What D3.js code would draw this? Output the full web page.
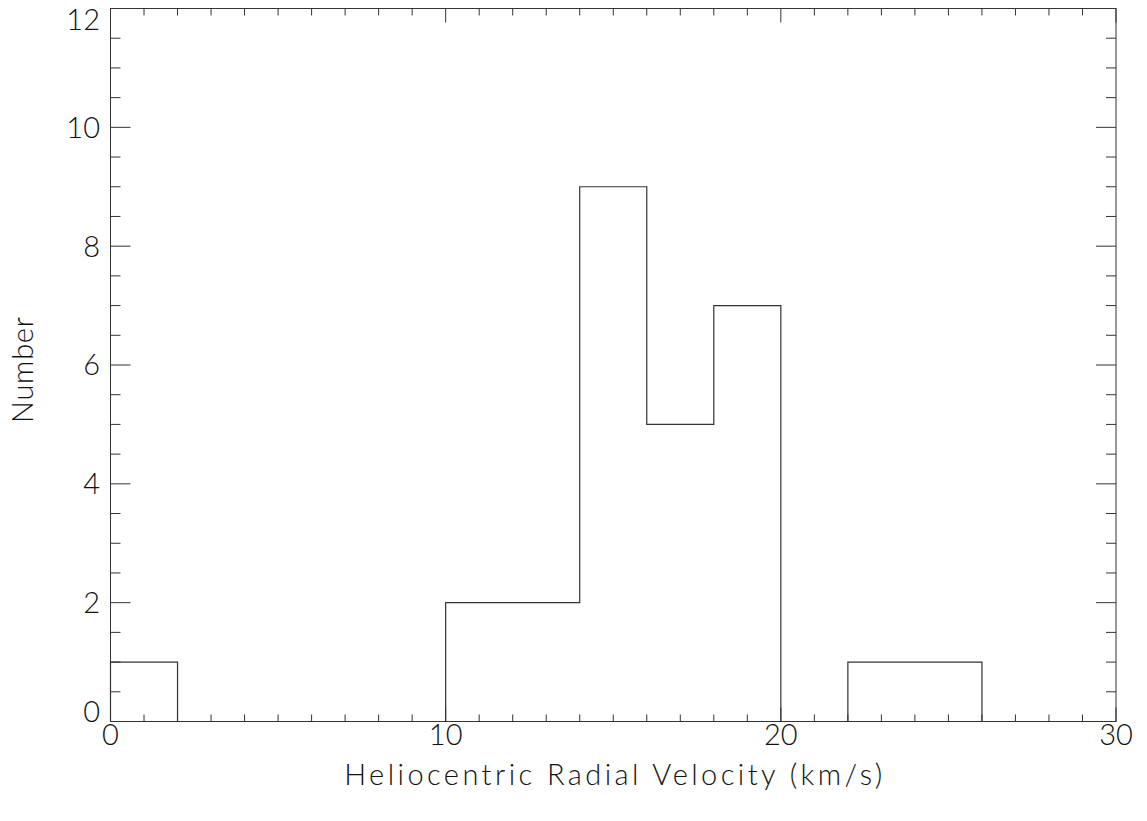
<!DOCTYPE html>
<html>
<head>
<meta charset="utf-8">
<script src="https://cdn.jsdelivr.net/npm/d3@7"></script>
<style>
  body { margin: 0; background: #fff; }
  text { font-family: Lato, "DejaVu Sans", sans-serif; font-weight: 300; fill: #111; }
</style>
</head>
<body>
<svg id="chart" width="1147" height="821"></svg>
<script>
// histogram bins (km/s), width 2
var binEdges = [0, 2, 4, 6, 8, 10, 12, 14, 16, 18, 20, 22, 24, 26, 28, 30];
var counts   = [1, 0, 0, 0, 0, 2, 2, 9, 5, 7, 0, 1, 1, 0, 0];
var xTicks = [0, 10, 20, 30];
var yTicks = [0, 2, 4, 6, 8, 10, 12];
var xTitle = "Heliocentric Radial Velocity (km/s)";
var yTitle = "Number";

var svg = d3.select("#chart");
var pLeft = 110.5, pRight = 1116, pTop = 8.5, pBottom = 721.5;
var lineCol = "#333";

var x = d3.scaleLinear().domain([0, 30]).range([pLeft, pRight]);
var y = d3.scaleLinear().domain([0, 12]).range([pBottom, pTop]);

// frame
svg.append("rect")
  .attr("x", pLeft).attr("y", pTop)
  .attr("width", pRight - pLeft).attr("height", pBottom - pTop)
  .attr("fill", "none").attr("stroke", lineCol).attr("stroke-width", 1);

// ticks: y major 20px / minor 10px, x major 14px / minor 7px (inward, both sides)
var g = svg.append("g").attr("stroke", lineCol).attr("stroke-width", 1);
d3.range(0, 12.01, 0.5).forEach(function(v){
  var len = (v % 2 === 0) ? 20 : 10;
  g.append("line").attr("x1", pLeft).attr("x2", pLeft + len).attr("y1", y(v)).attr("y2", y(v));
  g.append("line").attr("x1", pRight).attr("x2", pRight - len).attr("y1", y(v)).attr("y2", y(v));
});
d3.range(0, 30.01, 1).forEach(function(v){
  var len = (v % 10 === 0) ? 14 : 7;
  g.append("line").attr("x1", x(v)).attr("x2", x(v)).attr("y1", pBottom).attr("y2", pBottom - len);
  g.append("line").attr("x1", x(v)).attr("x2", x(v)).attr("y1", pTop).attr("y2", pTop + len);
});

// tick labels
svg.selectAll(".ylab").data(yTicks).enter().append("text")
  .attr("class", "ylab")
  .attr("x", 100)
  .attr("y", function(d){ return Math.min(Math.max(y(d), pTop + 11), pBottom - 10); })
  .attr("dy", "0.36em")
  .attr("text-anchor", "end")
  .attr("font-size", 29)
  .text(function(d){ return d; });

svg.selectAll(".xlab").data(xTicks).enter().append("text")
  .attr("class", "xlab")
  .attr("x", function(d){ return x(d); })
  .attr("y", 745)
  .attr("text-anchor", "middle")
  .attr("font-size", 29)
  .text(function(d){ return d; });

// axis titles
svg.append("text")
  .attr("x", (pLeft + pRight) / 2).attr("y", 785)
  .attr("text-anchor", "middle")
  .attr("font-size", 29)
  .attr("textLength", 538).attr("lengthAdjust", "spacing")
  .text(xTitle);

svg.append("text")
  .attr("transform", "translate(33," + ((pTop + pBottom) / 2 + 5) + ") rotate(-90)")
  .attr("text-anchor", "middle")
  .attr("font-size", 29)
  .attr("textLength", 106).attr("lengthAdjust", "spacing")
  .text(yTitle);

// histogram step line
var pts = [[0, 0]];
counts.forEach(function(c, i){
  pts.push([binEdges[i], c]);
  pts.push([binEdges[i + 1], c]);
});
pts.push([30, 0]);

svg.append("path")
  .datum(pts)
  .attr("fill", "none")
  .attr("stroke", lineCol)
  .attr("stroke-width", 1.2)
  .attr("d", d3.line().x(function(d){ return x(d[0]); }).y(function(d){ return y(d[1]); }));
</script>
</body>
</html>
